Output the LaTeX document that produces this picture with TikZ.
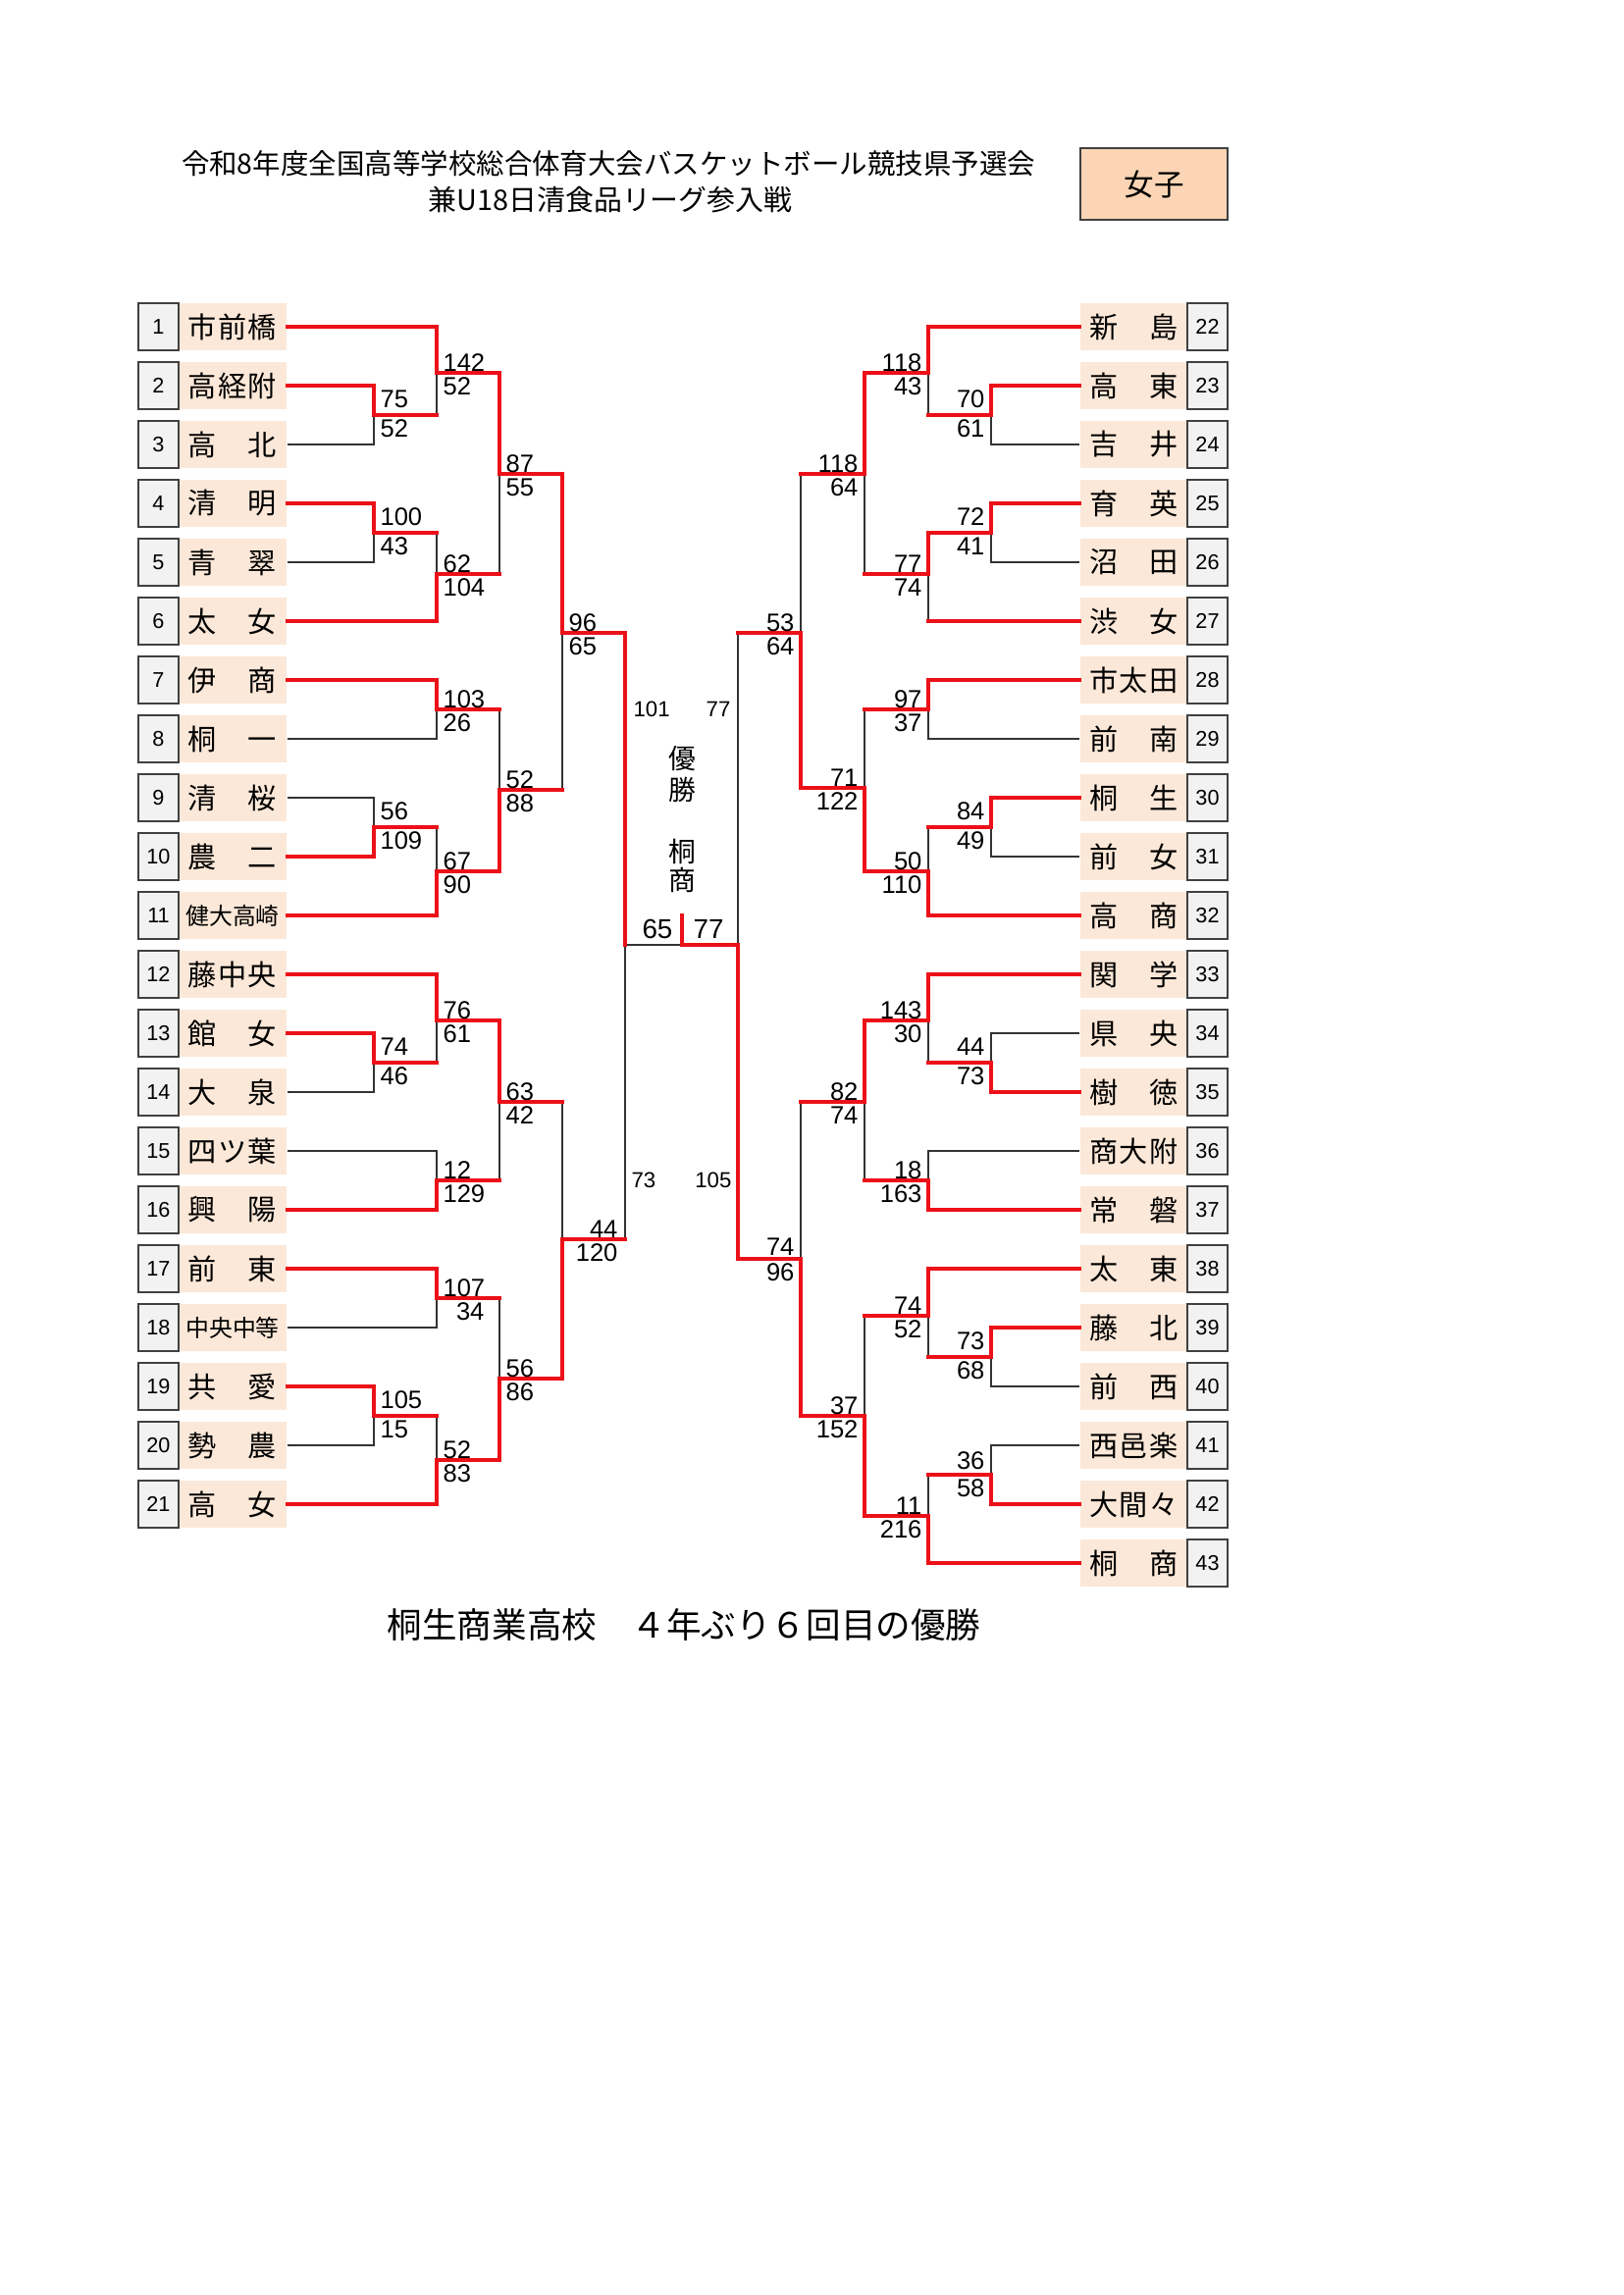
\documentclass[tikz,border=0pt]{standalone}
\usepackage{fontspec}
\setmainfont{Noto Sans CJK JP}
\newfontfamily\numf{Liberation Sans}
\definecolor{peach}{HTML}{FCE8D8}
\definecolor{orng}{HTML}{FBD5B5}
\definecolor{bred}{HTML}{EC1018}
\definecolor{boxgray}{HTML}{F2F2F2}
\newcommand\twoch[2]{\makebox[32.5pt][s]{#1\hfill #2}}
\newcommand\thrch[3]{\makebox[32.5pt][s]{#1\hfill #2\hfill #3}}
\newcommand\fourch[1]{{\fontsize{8.6}{9}\selectfont #1}}
\newcommand\teamL[2]{\node[namebox] (t#1) at (237,{333+60*(#1-1)}) {#2};
  \node[numbox] (n#1) at (161.5,{333+60*(#1-1)}) {#1};}
\newcommand\teamR[2]{\node[namebox] (t#1) at (1155.5,{333+60*(#1-22)}) {#2};
  \node[numbox] (n#1) at (1230.5,{333+60*(#1-22)}) {#1};}
\newcommand\SL[4][-2]{\node[scl] (#2a) at ([shift={(6,#1)}]#2) {#3};
  \node[scl] (#2b) at ([shift={(6,22)}]#2) {#4};}
\newcommand\SR[4][-2]{\node[scr] (#2a) at ([shift={(-6,#1)}]#2) {#3};
  \node[scr] (#2b) at ([shift={(-6,22)}]#2) {#4};}
\newcommand\cw[2]{\draw[W] (#1) -| (#2);}
\newcommand\cl[2]{\draw[L] (#1) -| (#2);}
\newcommand\clrB[2]{\draw[L] (#1 -| #2) -- (#2);}
\newcommand\clrR[2]{\draw[W] (#1) -- (#1 -| #2);}
\begin{document}
\begin{tikzpicture}[x=0.36pt,y=-0.36pt,
  numbox/.style={draw=black!75, line width=0.6pt, fill=boxgray, minimum width=14.76pt, minimum height=17.28pt, inner sep=0pt, font=\numf\fontsize{7.8}{8}\selectfont},
  namebox/.style={fill=peach, minimum width=39.6pt, minimum height=17.28pt, inner sep=0pt, font=\fontsize{10.5}{11}\selectfont},
  W/.style={draw=bred, line width=1.3pt, line cap=rect},
  L/.style={draw=black!80, line width=0.5pt},
  scl/.style={inner sep=0pt, font=\numf\fontsize{9.2}{10}\selectfont, anchor=base west},
  scr/.style={inner sep=0pt, font=\numf\fontsize{9.2}{10}\selectfont, anchor=base east},
  sms/.style={inner sep=0pt, font=\numf\fontsize{8}{9}\selectfont},
  fin/.style={inner sep=0pt, font=\numf\fontsize{10}{11}\selectfont},
  ctr/.style={inner sep=0pt, font=\fontsize{10}{11}\selectfont}]
\useasboundingbox (0,0) rectangle (1654,2339);
% titles
\node[inner sep=0pt, font=\fontsize{10.25}{12}\selectfont] (title1) at (620,167) {令和8年度全国高等学校総合体育大会バスケットボール競技県予選会};
\node[inner sep=0pt, font=\fontsize{10.4}{12}\selectfont] (title2) at (622,204) {兼U18日清食品リーグ参入戦};
\node[draw=black!75, line width=1pt, fill=orng, minimum width=54pt, minimum height=26.3pt, inner sep=0pt, font=\fontsize{11}{12}\selectfont] (sex) at (1176,187.5) {女子};
% left teams
\teamL{1}{\thrch{市}{前}{橋}}
\teamL{2}{\thrch{高}{経}{附}}
\teamL{3}{\twoch{高}{北}}
\teamL{4}{\twoch{清}{明}}
\teamL{5}{\twoch{青}{翠}}
\teamL{6}{\twoch{太}{女}}
\teamL{7}{\twoch{伊}{商}}
\teamL{8}{\twoch{桐}{一}}
\teamL{9}{\twoch{清}{桜}}
\teamL{10}{\twoch{農}{二}}
\teamL{11}{\fourch{健大高崎}}
\teamL{12}{\thrch{藤}{中}{央}}
\teamL{13}{\twoch{館}{女}}
\teamL{14}{\twoch{大}{泉}}
\teamL{15}{\thrch{四}{ツ}{葉}}
\teamL{16}{\twoch{興}{陽}}
\teamL{17}{\twoch{前}{東}}
\teamL{18}{\fourch{中央中等}}
\teamL{19}{\twoch{共}{愛}}
\teamL{20}{\twoch{勢}{農}}
\teamL{21}{\twoch{高}{女}}
% right teams
\teamR{22}{\twoch{新}{島}}
\teamR{23}{\twoch{高}{東}}
\teamR{24}{\twoch{吉}{井}}
\teamR{25}{\twoch{育}{英}}
\teamR{26}{\twoch{沼}{田}}
\teamR{27}{\twoch{渋}{女}}
\teamR{28}{\thrch{市}{太}{田}}
\teamR{29}{\twoch{前}{南}}
\teamR{30}{\twoch{桐}{生}}
\teamR{31}{\twoch{前}{女}}
\teamR{32}{\twoch{高}{商}}
\teamR{33}{\twoch{関}{学}}
\teamR{34}{\twoch{県}{央}}
\teamR{35}{\twoch{樹}{徳}}
\teamR{36}{\thrch{商}{大}{附}}
\teamR{37}{\twoch{常}{磐}}
\teamR{38}{\twoch{太}{東}}
\teamR{39}{\twoch{藤}{北}}
\teamR{40}{\twoch{前}{西}}
\teamR{41}{\thrch{西}{邑}{楽}}
\teamR{42}{\thrch{大}{間}{々}}
\teamR{43}{\twoch{桐}{商}}
% junctions
\coordinate (m1) at (381,423); \coordinate (m2) at (445,380);
\coordinate (m3) at (381,543); \coordinate (m4) at (445,585);
\coordinate (m5) at (509,483); \coordinate (m6) at (445,723);
\coordinate (m7) at (381,843); \coordinate (m8) at (445,888);
\coordinate (m9) at (509,805); \coordinate (m10) at (573,645);
\coordinate (m11) at (381,1083); \coordinate (m12) at (445,1040);
\coordinate (m13) at (445,1203); \coordinate (m14) at (509,1123);
\coordinate (m15) at (445,1323); \coordinate (m16) at (381,1443);
\coordinate (m17) at (445,1488); \coordinate (m18) at (509,1405);
\coordinate (m19) at (573,1263); \coordinate (sl) at (637,963);
\coordinate (fc) at (695,963); \coordinate (ft) at (695,933);
\coordinate (r1) at (1010,423); \coordinate (r2) at (946,380);
\coordinate (r3) at (1010,543); \coordinate (r4) at (946,585);
\coordinate (r5) at (881,483); \coordinate (r6) at (946,723);
\coordinate (r7) at (1010,843); \coordinate (r8) at (946,888);
\coordinate (r9) at (881,803); \coordinate (r10) at (816,645);
\coordinate (r11) at (1010,1083); \coordinate (r12) at (946,1040);
\coordinate (r13) at (946,1203); \coordinate (r14) at (881,1123);
\coordinate (r15) at (1010,1383); \coordinate (r16) at (946,1341);
\coordinate (r17) at (1010,1503); \coordinate (r18) at (946,1545);
\coordinate (r19) at (881,1443); \coordinate (r20) at (816,1283);
\coordinate (sr) at (752,963);
% losing lines
\cl{t3.east}{m1} \clrB{m1}{m2} \cl{t5.east}{m3} \clrB{m3}{m4} \clrB{m4}{m5}
\cl{t8.east}{m6} \cl{t9.east}{m7} \clrB{m7}{m8} \clrB{m6}{m9} \clrB{m9}{m10}
\cl{t14.east}{m11} \clrB{m11}{m12} \cl{t15.east}{m13} \clrB{m13}{m14}
\cl{t18.east}{m15} \cl{t20.east}{m16} \clrB{m16}{m17} \clrB{m15}{m18}
\clrB{m14}{m19} \clrB{m19}{sl}
\draw[L] (sl) -- (fc);
\cl{t24.west}{r1} \clrB{r1}{r2} \cl{t26.west}{r3} \clrB{t27.west}{r4} \clrB{r4}{r5}
\cl{t29.west}{r6} \cl{t31.west}{r7} \clrB{r7}{r8} \clrB{r6}{r9} \clrB{r5}{r10}
\cl{t34.west}{r11} \clrB{r11}{r12} \cl{t36.west}{r13} \clrB{r13}{r14}
\cl{t40.west}{r15} \clrB{r15}{r16} \cl{t41.west}{r17} \clrB{r17}{r18}
\clrB{r16}{r19} \clrB{r14}{r20} \clrB{r10}{sr}
% winning lines
\cw{t2.east}{m1} \cw{t1.east}{m2} \clrR{m1}{m2} \cw{t4.east}{m3}
\clrR{m3}{m4} \cw{t6.east}{m4} \cw{m2}{m5} \clrR{m4}{m5}
\cw{t7.east}{m6} \cw{t10.east}{m7} \clrR{m7}{m8} \cw{t11.east}{m8}
\clrR{m6}{m9} \cw{m8}{m9} \cw{m5}{m10} \clrR{m9}{m10}
\cw{t13.east}{m11} \cw{t12.east}{m12} \clrR{m11}{m12} \cw{t16.east}{m13}
\cw{m12}{m14} \clrR{m13}{m14} \cw{t17.east}{m15} \cw{t19.east}{m16}
\clrR{m16}{m17} \cw{t21.east}{m17} \clrR{m15}{m18} \cw{m17}{m18}
\clrR{m14}{m19} \cw{m18}{m19} \cw{m10}{sl} \clrR{m19}{sl}
\cw{t23.west}{r1} \cw{t22.west}{r2} \clrR{r1}{r2} \cw{t25.west}{r3}
\cw{r3}{r4} \clrR{t27.west}{r4} \cw{r2}{r5} \clrR{r4}{r5}
\cw{t28.west}{r6} \cw{t30.west}{r7} \clrR{r7}{r8} \cw{t32.west}{r8}
\clrR{r6}{r9} \cw{r8}{r9} \clrR{r5}{r10} \cw{r9}{r10}
\cw{t35.west}{r11} \cw{t33.west}{r12} \clrR{r11}{r12} \cw{t37.west}{r13}
\cw{r12}{r14} \clrR{r13}{r14} \cw{t39.west}{r15} \cw{t38.west}{r16} \clrR{r15}{r16}
\cw{t42.west}{r17} \clrR{r17}{r18} \cw{t43.west}{r18}
\clrR{r16}{r19} \cw{r18}{r19} \clrR{r14}{r20} \cw{r19}{r20}
\clrR{r10}{sr} \cw{r20}{sr}
\draw[W] (sr) -- (fc) -- (ft);
% scores left
\SL[-8]{m1}{75}{52} \SL{m2}{142}{52} \SL[-8]{m3}{100}{43} \SL{m4}{62}{104}
\SL{m5}{87}{55} \SL{m6}{103}{26} \SL[-8]{m7}{56}{109} \SL{m8}{67}{90}
\SL{m9}{52}{88} \SL{m10}{96}{65} \SL[-8]{m11}{74}{46} \SL{m12}{76}{61}
\SL{m13}{12}{129} \SL{m14}{63}{42}
\node[scl] (m15a) at ([shift={(6,-2)}]m15) {107};
\node[scr] (m15b) at ([shift={(49,22)}]m15) {34};
\SL[-8]{m16}{105}{15} \SL{m17}{52}{83} \SL{m18}{56}{86}
\node[scr] (m19a) at ([shift={(57,-2)}]m19) {44};
\node[scr] (m19b) at ([shift={(57,22)}]m19) {120};
% scores right
\SR[-8]{r1}{70}{61} \SR{r2}{118}{43} \SR[-8]{r3}{72}{41} \SR{r4}{77}{74}
\SR{r5}{118}{64} \SR{r6}{97}{37} \SR[-8]{r7}{84}{49} \SR{r8}{50}{110}
\SR{r9}{71}{122} \SR{r10}{53}{64} \SR[-8]{r11}{44}{73} \SR{r12}{143}{30}
\SR{r13}{18}{163} \SR{r14}{82}{74} \SR[-8]{r15}{73}{68} \SR{r16}{74}{52}
\SR[-6]{r17}{36}{58} \SR{r18}{11}{216} \SR{r19}{37}{152} \SR[-4]{r20}{74}{96}
% semifinal and final scores
\node[sms, anchor=west] (sla) at (645,723) {101};
\node[sms, anchor=west] (slb) at (643,1203) {73};
\node[sms, anchor=east] (sra) at (745,723) {77};
\node[sms, anchor=east] (srb) at (746,1203) {105};
\node[fin, anchor=east] (fl) at (686,947) {65};
\node[fin, anchor=west] (fr) at (706,947) {77};
% champion
\node[ctr] (c1) at (695,773) {優};
\node[ctr] (c2) at (695,805) {勝};
\node[ctr] (c3) at (695,868) {桐};
\node[ctr] (c4) at (695,897) {商};
% bottom
\node[inner sep=0pt, font=\fontsize{12.8}{14}\selectfont] (foot) at (697,1656) {桐生商業高校　４年ぶり６回目の優勝};
\end{tikzpicture}
\end{document}
